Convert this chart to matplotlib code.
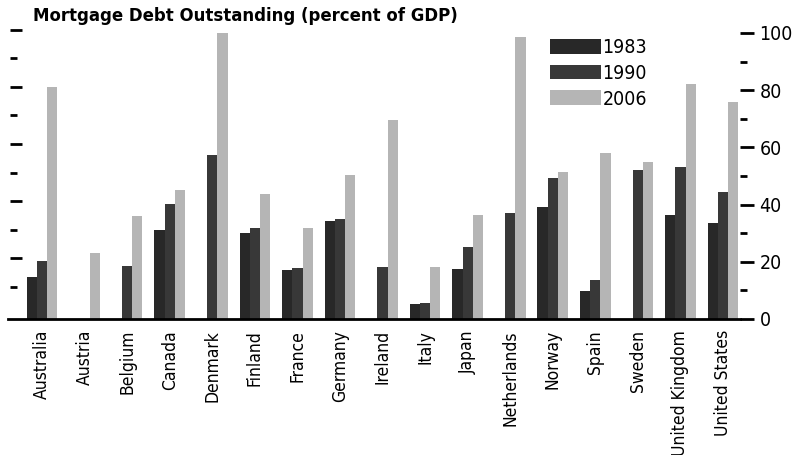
import numpy as np
import matplotlib
matplotlib.use('Agg')
import matplotlib.pyplot as plt
from matplotlib.ticker import MultipleLocator

plt.rcParams['font.family'] = ['DejaVu Sans']
plt.rcParams['font.stretch'] = 'condensed'

countries = ['Australia', 'Austria', 'Belgium', 'Canada', 'Denmark', 'Finland',
             'France', 'Germany', 'Ireland', 'Italy', 'Japan', 'Netherlands',
             'Norway', 'Spain', 'Sweden', 'United Kingdom', 'United States']
years = ['1983', '1990', '2006']
# nan = no data
debt_1983 = [14.6, np.nan, np.nan, 31.0, np.nan, 30.2, 17.3, 34.3, np.nan,
             5.1, 17.4, np.nan, 39.0, 9.8, np.nan, 36.5, 33.5]
debt_1990 = [20.2, np.nan, 18.4, 40.1, 57.5, 31.9, 17.8, 35.1, 18.2,
             5.6, 25.1, 37.0, 49.2, 13.5, 52.0, 53.0, 44.5]
debt_2006 = [81.0, 23.1, 36.0, 45.0, 100.0, 43.7, 31.7, 50.4, 69.5,
             18.2, 36.5, 98.5, 51.4, 58.2, 55.0, 82.1, 75.9]

colors = ['#282828', '#383838', '#b5b5b5']

W, H = 801, 455
fig = plt.figure(figsize=(W / 100, H / 100), dpi=100)
ax = fig.add_axes([8 / W, 1 - 319 / H, (740 - 8) / W, (319 - 33) / H])

x = np.arange(len(countries))
bw = 0.24
for k, (vals, c, lab) in enumerate(zip([debt_1983, debt_1990, debt_2006], colors, years)):
    ax.bar(x + (k - 1) * bw, vals, width=bw, color=c, label=lab, clip_on=False)

ax.set_xlim(-0.8, 16.4)
ax.set_ylim(0, 100)

for s in ['top', 'left', 'right']:
    ax.spines[s].set_visible(False)
ax.spines['bottom'].set_linewidth(2)

ax.set_xticks(x)
ax.set_xticklabels(countries, rotation=90, fontsize=12.5)
ax.tick_params(axis='x', length=0, pad=8)

# right-hand axis: labelled majors, short minors
ax.yaxis.set_major_locator(MultipleLocator(20))
ax.yaxis.set_minor_locator(MultipleLocator(10))
ax.tick_params(axis='y', which='both', left=False, right=True, labelleft=False,
               labelright=True, direction='out', width=2, labelsize=14, pad=4)
ax.tick_params(axis='y', which='major', length=10)
ax.tick_params(axis='y', which='minor', length=5)

# left-hand unlabelled ticks
ax_l = fig.add_axes([0, 1 - 319 / H, 30 / W, (319 - 33) / H])
ax_l.set_xlim(0, 30)
ax_l.set_ylim(0, 100)
ax_l.axis('off')
for v in range(10, 101, 10):
    w = 12 if v % 20 == 0 else 7
    ax_l.plot([10, 10 + w], [v + 1.2, v + 1.2], color='black', lw=2,
              solid_capstyle='butt', clip_on=False)

fig.text(33 / W, 1 - 16 / H, 'Mortgage Debt Outstanding (percent of GDP)',
         fontsize=13.2, fontweight='bold', va='center', ha='left')

ax.legend(loc='upper left', bbox_to_anchor=(550 / W, 1 - 38 / H),
          bbox_transform=fig.transFigure, frameon=False, fontsize=14,
          handlelength=2.6, handleheight=0.8, handletextpad=0.1,
          labelspacing=0.35, borderpad=0, borderaxespad=0)

fig.savefig('out.png', dpi=100)
